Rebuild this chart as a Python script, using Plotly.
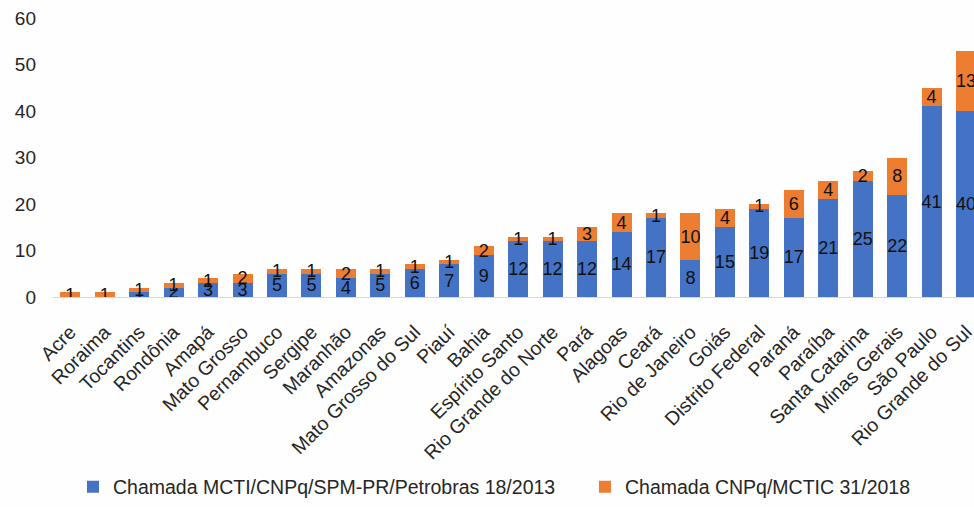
import plotly.graph_objects as go

# Brazilian states, ordered by total number of projects
states = [
    "Acre", "Roraima", "Tocantins", "Rondônia", "Amapá", "Mato Grosso",
    "Pernambuco", "Sergipe", "Maranhão", "Amazonas", "Mato Grosso do Sul",
    "Piauí", "Bahia", "Espírito Santo", "Rio Grande do Norte", "Pará",
    "Alagoas", "Ceará", "Rio de Janeiro", "Goiás", "Distrito Federal",
    "Paraná", "Paraíba", "Santa Catarina", "Minas Gerais", "São Paulo",
    "Rio Grande do Sul",
]

# Projects per call
call_2013 = [0, 0, 1, 2, 3, 3, 5, 5, 4, 5, 6, 7, 9, 12, 12, 12, 14, 17, 8, 15, 19, 17, 21, 25, 22, 41, 40]
call_2018 = [1, 1, 1, 1, 1, 2, 1, 1, 2, 1, 1, 1, 2, 1, 1, 3, 4, 1, 10, 4, 1, 6, 4, 2, 8, 4, 13]

name_2013 = "Chamada MCTI/CNPq/SPM-PR/Petrobras 18/2013"
name_2018 = "Chamada CNPq/MCTIC 31/2018"

BLUE = "#4472C4"
ORANGE = "#ED7D31"
FONT = "Liberation Sans, Arial, sans-serif"
TEXT = "#262626"


def labels(values):
    return [str(v) if v else "" for v in values]


fig = go.Figure()
series = [
    (name_2013, call_2013, BLUE, "legend"),
    (name_2018, call_2018, ORANGE, "legend2"),
]
for name, values, color, legend_id in series:
    fig.add_trace(go.Bar(
        x=states,
        y=values,
        name=name,
        legend=legend_id,
        marker=dict(color=color, line=dict(width=0)),
        text=labels(values),
        textposition="inside",
        insidetextanchor="middle",
        textangle=0,
        textfont=dict(family=FONT, size=18, color="#111111"),
        hoverinfo="x+y+name",
    ))

legend_style = dict(
    orientation="h",
    xanchor="left",
    y=-0.681,
    yanchor="middle",
    font=dict(family=FONT, size=19.5, color=TEXT),
    bgcolor="rgba(0,0,0,0)",
)

fig.update_layout(
    width=974,
    height=507,
    margin=dict(l=53, r=0, t=18, b=207),
    barmode="stack",
    bargap=0.42,
    paper_bgcolor="#FEFEFE",
    plot_bgcolor="#FEFEFE",
    font=dict(family=FONT, color=TEXT),
    uniformtext=dict(minsize=18, mode="show"),
    showlegend=True,
    legend=dict(x=0.0217, **legend_style),
    legend2=dict(x=0.5776, **legend_style),
)

fig.update_xaxes(
    range=[-0.5, 26.23],
    automargin=False,
    showline=True,
    linecolor="#D9D9D9",
    linewidth=1,
    showgrid=False,
    ticks="",
    tickangle=-45,
    ticklabelstandoff=15,
    tickfont=dict(family=FONT, size=19.5, color=TEXT),
)

fig.update_yaxes(
    range=[0, 60],
    dtick=10,
    automargin=False,
    showgrid=False,
    zeroline=False,
    showline=False,
    ticks="",
    ticklabelstandoff=16,
    tickfont=dict(family=FONT, size=19, color=TEXT),
)

fig.write_html("out.html")
